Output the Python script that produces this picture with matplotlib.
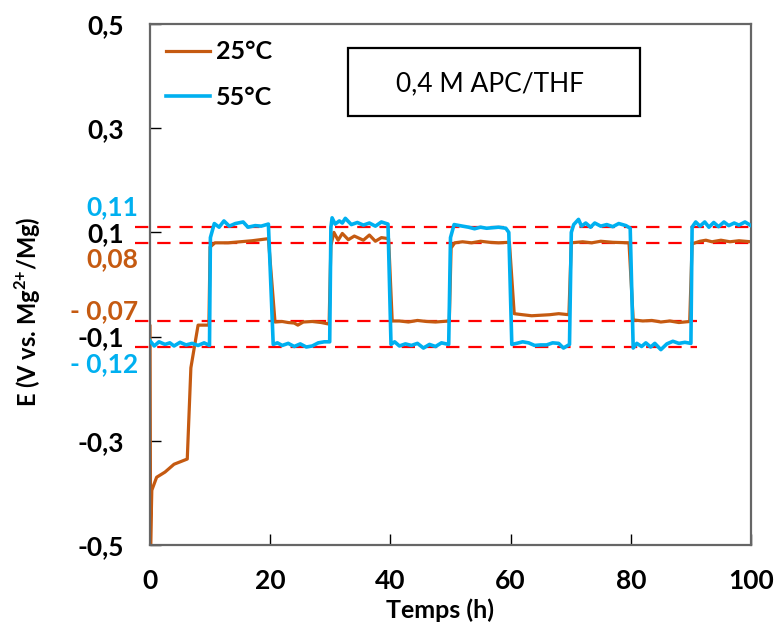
import matplotlib
matplotlib.use("Agg")
import matplotlib.pyplot as plt
from matplotlib.patches import Rectangle

plt.rcParams['font.family'] = ['Lato', 'DejaVu Sans']
plt.rcParams['mathtext.fontset'] = 'custom'
plt.rcParams['mathtext.rm'] = 'Lato'
plt.rcParams['mathtext.bf'] = 'Lato:bold'

# ---------------- data ----------------
t_55 = [0, 0.7, 1.5, 2.5, 3.3, 4, 5, 6, 7, 8, 9, 9.9,
        10.05, 10.7, 11.5, 12.3, 13.2, 14.2, 15.5, 16.3, 17.5, 18.5, 19.7,
        20.5, 21.2, 22, 23, 24, 25, 26, 27, 28, 29, 29.9,
        30.1, 30.3, 30.8, 31.5, 32, 32.5, 33.5, 34.5, 35.5, 36.5, 37.5, 38.5, 39.6,
        40.1, 40.7, 41.5, 42.5, 43.5, 44.5, 45.5, 46.5, 47.5, 48.5, 49.7,
        50.0, 50.6, 52, 53, 54, 55, 56, 57, 58, 59.2, 59.7,
        60.2, 61, 62, 63, 64, 65, 66, 67, 68, 68.8, 69.8,
        70.1, 70.5, 71.3, 71.8, 72.5, 73.3, 74, 75, 76, 77, 78, 79.2, 79.9,
        80.4, 81, 81.8, 82.5, 83.3, 84, 85, 86, 87, 88, 89, 90,
        90.2, 90.8, 91.5, 92.3, 93, 93.8, 94.6, 95.5, 96.3, 97.2, 98, 99, 100]
E_55 = [-0.108, -0.118, -0.110, -0.115, -0.112, -0.118, -0.111, -0.116, -0.113, -0.117, -0.112, -0.117,
        0.09, 0.117, 0.110, 0.122, 0.112, 0.117, 0.120, 0.110, 0.113, 0.112, 0.116,
        -0.115, -0.112, -0.117, -0.113, -0.119, -0.114, -0.120, -0.118, -0.112, -0.110, -0.110,
        0.110, 0.128, 0.116, 0.122, 0.118, 0.127, 0.115, 0.119, 0.114, 0.118, 0.112, 0.120, 0.116,
        -0.115, -0.110, -0.118, -0.114, -0.117, -0.113, -0.122, -0.115, -0.119, -0.112, -0.115,
        0.090, 0.115, 0.112, 0.110, 0.107, 0.110, 0.108, 0.109, 0.110, 0.108, 0.100,
        -0.115, -0.113, -0.110, -0.112, -0.117, -0.116, -0.116, -0.112, -0.113, -0.122, -0.115,
        0.100, 0.115, 0.125, 0.112, 0.118, 0.110, 0.118, 0.112, 0.115, 0.111, 0.117, 0.113, 0.108,
        -0.122, -0.113, -0.119, -0.112, -0.120, -0.113, -0.125, -0.114, -0.109, -0.113, -0.111, -0.113,
        0.110, 0.120, 0.112, 0.120, 0.110, 0.119, 0.111, 0.120, 0.113, 0.118, 0.114, 0.120, 0.113]

t_25 = [0, 0.1, 0.3, 1.1, 2.5, 4, 6.2, 6.8, 8.0, 9.8,
        10.0, 10.8, 13, 15, 17, 19.7,
        20.8, 22, 23, 24, 24.6, 25.5, 27, 28.5, 29.8,
        30.1, 30.6, 31.3, 32, 33, 34, 35.5, 36.5, 37.5, 38.5, 39.7,
        40.3, 41.5, 43, 44.5, 46, 47.5, 49.8,
        50.1, 50.7, 52, 53.5, 55, 56.5, 58, 59.8,
        60.6, 62, 63.5, 65, 66.5, 68, 69.7,
        70.1, 72, 73.5, 75, 77, 79.7,
        80.4, 82, 83.5, 85, 86.5, 88, 89.8,
        90.2, 91.5, 92.5, 93.5, 95, 96.5, 98, 100]
E_25 = [-0.08, -0.5, -0.395, -0.37, -0.36, -0.345, -0.335, -0.16, -0.078, -0.078,
        0.072, 0.080, 0.080, 0.082, 0.084, 0.088,
        -0.072, -0.071, -0.073, -0.074, -0.078, -0.072, -0.071, -0.073, -0.076,
        0.075, 0.100, 0.085, 0.098, 0.086, 0.093, 0.085, 0.095, 0.083, 0.090, 0.088,
        -0.070, -0.070, -0.072, -0.069, -0.071, -0.072, -0.070,
        0.070, 0.080, 0.082, 0.080, 0.083, 0.081, 0.080, 0.081,
        -0.056, -0.058, -0.060, -0.059, -0.058, -0.056, -0.058,
        0.080, 0.082, 0.080, 0.083, 0.081, 0.080,
        -0.068, -0.070, -0.069, -0.072, -0.070, -0.073, -0.071,
        0.078, 0.083, 0.085, 0.082, 0.085, 0.082, 0.084, 0.082]

series_labels = ["25°C", "55°C"]
ref_levels = [0.11, 0.08, -0.07, -0.12]
ref_ends = [100, 100, 91, 91]
ref_texts = ["0,11", "0,08", "- 0,07", "- 0,12"]
ref_text_y = [0.149, 0.049, -0.051, -0.153]
ref_colors = ["#00B0F0", "#C55A11", "#C55A11", "#00B0F0"]

xticks = [0, 20, 40, 60, 80, 100]
yticks = [-0.5, -0.3, -0.1, 0.1, 0.3, 0.5]
yticklabels = ["-0,5", "-0,3", "-0,1", "0,1", "0,3", "0,5"]
annotation = "0,4 M APC/THF"

# ---------------- figure ----------------
c25 = "#C55A11"
c55 = "#00B0F0"

fig = plt.figure(figsize=(7.76, 6.26), dpi=100)
ax = fig.add_axes([150/776, 1-545/626, 601/776, 521/626])

for lvl, xe in zip(ref_levels, ref_ends):
    ax.plot([-2.5, xe], [lvl, lvl], color="#FF0000", lw=1.6,
            dashes=(6, 4), clip_on=False, zorder=1)

ax.plot(t_25, E_25, color=c25, lw=2.3, label=series_labels[0], zorder=2)
ax.plot(t_55, E_55, color=c55, lw=2.6, label=series_labels[1], zorder=3)

for txt, ty, col in zip(ref_texts, ref_text_y, ref_colors):
    ax.text(-2.0, ty, txt, color=col, fontsize=19, fontweight="bold",
            ha="right", va="center", clip_on=False)

ax.set_xlim(0, 100)
ax.set_ylim(-0.5, 0.5)
ax.set_xticks(xticks)
ax.set_xticklabels([str(v) for v in xticks], fontsize=19, fontweight="bold")
ax.set_yticks(yticks)
ax.set_yticklabels(yticklabels, fontsize=19, fontweight="bold")
ax.tick_params(direction="in", length=8, width=1, color="black")
ax.tick_params(axis="x", pad=17)
ax.tick_params(axis="y", pad=19)

for s in ax.spines.values():
    s.set_color("#666666")
    s.set_linewidth(1.6)

leg = ax.legend(loc="upper left", bbox_to_anchor=(0.0, 1.0), frameon=False,
                prop={"weight": "bold", "size": 18},
                handlelength=1.75, labelspacing=0.9, handletextpad=0.25,
                borderaxespad=0.25)

ax.add_patch(Rectangle((0.329, 0.823), 0.486, 0.1305, transform=ax.transAxes,
                       fill=False, edgecolor="black", lw=1.6, zorder=4))
ax.text(0.566, 0.885, annotation, transform=ax.transAxes, fontsize=19,
        ha="center", va="center", zorder=5)

fig.text(440/776, 1-610/626, "Temps (h)", fontsize=18, fontweight="bold",
         ha="center", va="center")
fig.text(28/776, 1-312/626, "E (V vs. Mg$^{\\mathbf{2{+}}}$/Mg)", fontsize=17,
         fontweight="bold", rotation=90, ha="center", va="center")

fig.savefig("out.png", dpi=100)
